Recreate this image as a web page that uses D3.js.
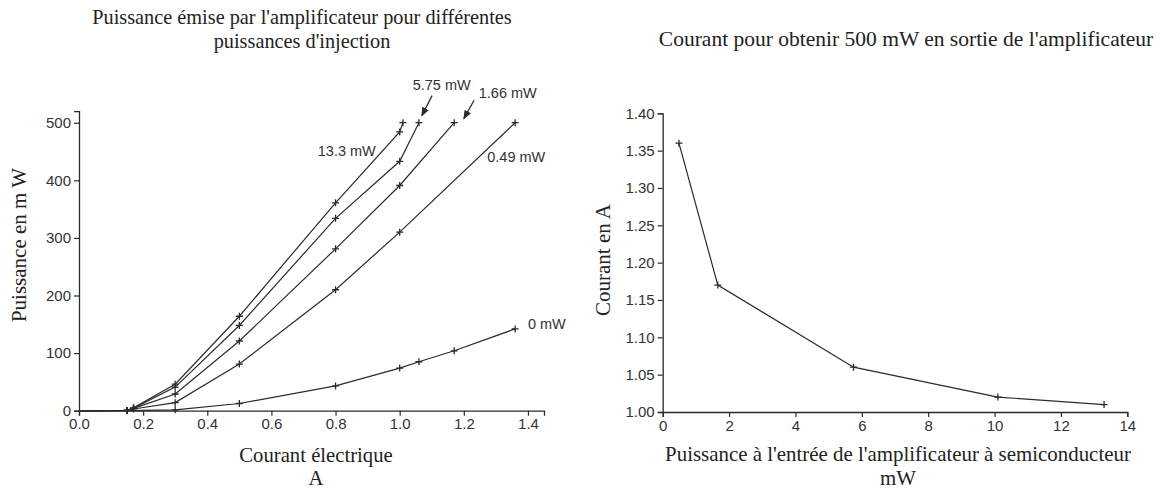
<!DOCTYPE html>
<html>
<head>
  <meta charset='utf-8'>
  <title>Amplificateur</title>
  <script src='https://cdn.jsdelivr.net/npm/d3@7/dist/d3.min.js'></script>
  <style>
    body { margin: 0; background: #fff; }
    .serif { font-family: 'Liberation Serif', 'Times New Roman', serif; fill: #222; }
    .tick text, .note { font-family: 'Liberation Sans', Arial, sans-serif; fill: #333; }
  </style>
</head>
<body>
<svg id='chart' width='1171' height='491'></svg>
<script>
// courbes de gauche : courant (A) et puissance de sortie (mW)
const current0 = [0, 0.15, 0.3, 0.5, 0.8, 1.0, 1.06, 1.17, 1.36];
const power0 = [0, 0.3, 1.5, 12.5, 43, 74, 85, 104, 142];
const current049 = [0, 0.15, 0.17, 0.3, 0.5, 0.8, 1.0, 1.36];
const power049 = [0, 0.5, 3, 14, 81, 210, 310, 500];
const current166 = [0, 0.15, 0.17, 0.3, 0.5, 0.8, 1.0, 1.17];
const power166 = [0, 0.5, 4, 29, 121, 281, 391, 500];
const current575 = [0, 0.15, 0.17, 0.3, 0.5, 0.8, 1.0, 1.06];
const power575 = [0, 0.5, 4.5, 41, 148, 334, 433, 500];
const current133 = [0, 0.15, 0.17, 0.3, 0.5, 0.8, 1.0, 1.01];
const power133 = [0, 0.5, 5, 46, 164, 361, 484, 500];
const seriesLabels = ['0 mW', '0.49 mW', '1.66 mW', '5.75 mW', '13.3 mW'];

// courbe de droite
const injection = [0.49, 1.66, 5.75, 10.1, 13.3];
const courant500 = [1.36, 1.17, 1.06, 1.02, 1.01];

const leftXTicks = [0, 0.2, 0.4, 0.6, 0.8, 1.0, 1.2, 1.4];
const leftYTicks = [0, 100, 200, 300, 400, 500];
const rightXTicks = [0, 2, 4, 6, 8, 10, 12, 14];
const rightYTicks = [1.00, 1.05, 1.10, 1.15, 1.20, 1.25, 1.30, 1.35, 1.40];

const ink = '#2b2b2b';
const svg = d3.select('#chart');

function zip(xs, ys) { return xs.map((x, i) => ({ x: x, y: ys[i] })); }

// draws both axes with major and minor ticks
function drawAxes(g, x, y, xTicks, yTicks, xMinor, yMinor, xFmt, yFmt) {
    const [y0] = y.range();
    const gx = g.append('g').attr('transform', `translate(0,${y0})`);
    gx.call(d3.axisBottom(x).tickValues(xMinor).tickSize(3).tickFormat(''));
    gx.call(d3.axisBottom(x).tickValues(xTicks).tickSize(5).tickPadding(3).tickFormat(xFmt));
    const [x0] = x.range();
    const gy = g.append('g').attr('transform', `translate(${x0},0)`);
    gy.call(d3.axisLeft(y).tickValues(yMinor).tickSize(3).tickFormat(''));
    gy.call(d3.axisLeft(y).tickValues(yTicks).tickSize(5).tickPadding(3).tickFormat(yFmt));
    g.selectAll('.domain').attr('stroke', ink).attr('stroke-width', 1.3);
    g.selectAll('.tick line').attr('stroke', ink).attr('stroke-width', 1.2);
    g.selectAll('.tick text').style('font-size', '15px').attr('fill', '#333');
}

function drawPlus(g, pts, x, y) {
    g.selectAll(null).data(pts).enter().append('path')
        .attr('d', d => `M${x(d.x) - 3.5},${y(d.y)}h7M${x(d.x)},${y(d.y) - 3.5}v7`)
        .attr('stroke', ink).attr('stroke-width', 1.3);
}

// ---- graphique de gauche ----
const xL = d3.scaleLinear().domain([0, 1.45]).range([79, 544]);
const yL = d3.scaleLinear().domain([0, 520]).range([410.7, 111.2]);
const left = svg.append('g');
drawAxes(left, xL, yL, leftXTicks, leftYTicks,
    d3.range(0.1, 1.45, 0.2), d3.range(50, 520, 100),
    d3.format('.1f'), d3.format('d'));

const curves = [
    zip(current0, power0), zip(current049, power049), zip(current166, power166),
    zip(current575, power575), zip(current133, power133)];
const line = d3.line().x(d => xL(d.x)).y(d => yL(d.y));
curves.forEach(c => {
    left.append('path').datum(c).attr('d', line)
        .attr('fill', 'none').attr('stroke', ink).attr('stroke-width', 1.2);
    drawPlus(left, c.slice(1), xL, yL);
});

// étiquettes des courbes
const notes = [
    { t: seriesLabels[4], x: 0.835, y: 443, a: 'middle' },
    { t: seriesLabels[1], x: 1.273, y: 431, a: 'start' },
    { t: seriesLabels[0], x: 1.40, y: 142, a: 'start' },
    { t: seriesLabels[3], x: 1.131, y: 556, a: 'middle' },
    { t: seriesLabels[2], x: 1.337, y: 543, a: 'middle' }];
left.selectAll('.note').data(notes).enter().append('text')
    .attr('class', 'note')
    .attr('x', d => xL(d.x)).attr('y', d => yL(d.y))
    .attr('text-anchor', d => d.a)
    .style('font-size', '14.5px')
    .text(d => d.t);

svg.append('defs').append('marker')
    .attr('id', 'arrow').attr('viewBox', '0 0 10 10')
    .attr('refX', 9).attr('refY', 5)
    .attr('markerWidth', 7).attr('markerHeight', 7)
    .attr('orient', 'auto-start-reverse')
    .append('path').attr('d', 'M0,1L10,5L0,9z').attr('fill', ink);
const arrows = [
    { x1: 1.101, y1: 547, x2: 1.069, y2: 512 },
    { x1: 1.232, y1: 539, x2: 1.200, y2: 507 }];
left.selectAll('.arrow').data(arrows).enter().append('line')
    .attr('x1', d => xL(d.x1)).attr('y1', d => yL(d.y1))
    .attr('x2', d => xL(d.x2)).attr('y2', d => yL(d.y2))
    .attr('stroke', ink).attr('stroke-width', 1.3)
    .attr('marker-end', 'url(#arrow)');

left.append('text').attr('class', 'serif')
    .attr('x', 302).attr('y', 24).attr('text-anchor', 'middle')
    .style('font-size', '20.3px')
    .text("Puissance émise par l'amplificateur pour différentes");
left.append('text').attr('class', 'serif')
    .attr('x', 302).attr('y', 48).attr('text-anchor', 'middle')
    .style('font-size', '20.3px')
    .text("puissances d'injection");
left.append('text').attr('class', 'serif')
    .attr('x', 316).attr('y', 462).attr('text-anchor', 'middle')
    .style('font-size', '20.7px').text('Courant électrique');
left.append('text').attr('class', 'serif')
    .attr('x', 316).attr('y', 485).attr('text-anchor', 'middle')
    .style('font-size', '20.7px').text('A');
left.append('text').attr('class', 'serif')
    .attr('transform', 'translate(26,245) rotate(-90)').attr('text-anchor', 'middle')
    .style('font-size', '21px').text('Puissance en m W');

// ---- graphique de droite ----
const xR = d3.scaleLinear().domain([0, 14]).range([662.7, 1127.3]);
const yR = d3.scaleLinear().domain([1.0, 1.4]).range([412, 113.3]);
const right = svg.append('g');
drawAxes(right, xR, yR, rightXTicks, rightYTicks,
    d3.range(1, 14, 2), d3.range(1.025, 1.4, 0.05),
    d3.format('d'), d3.format('.2f'));
const pts = zip(injection, courant500);
right.append('path').datum(pts)
    .attr('d', d3.line().x(d => xR(d.x)).y(d => yR(d.y)))
    .attr('fill', 'none').attr('stroke', ink).attr('stroke-width', 1.2);
drawPlus(right, pts, xR, yR);

right.append('text').attr('class', 'serif')
    .attr('x', 906).attr('y', 46).attr('text-anchor', 'middle')
    .style('font-size', '21.5px')
    .text("Courant pour obtenir 500 mW en sortie de l'amplificateur");
right.append('text').attr('class', 'serif')
    .attr('x', 898).attr('y', 461).attr('text-anchor', 'middle')
    .style('font-size', '20.9px')
    .text("Puissance à l'entrée de l'amplificateur à semiconducteur");
right.append('text').attr('class', 'serif')
    .attr('x', 898).attr('y', 485).attr('text-anchor', 'middle')
    .style('font-size', '20.9px').text('mW');
right.append('text').attr('class', 'serif')
    .attr('transform', 'translate(610,260) rotate(-90)').attr('text-anchor', 'middle')
    .style('font-size', '21px').text('Courant en A');
</script>
</body>
</html>
